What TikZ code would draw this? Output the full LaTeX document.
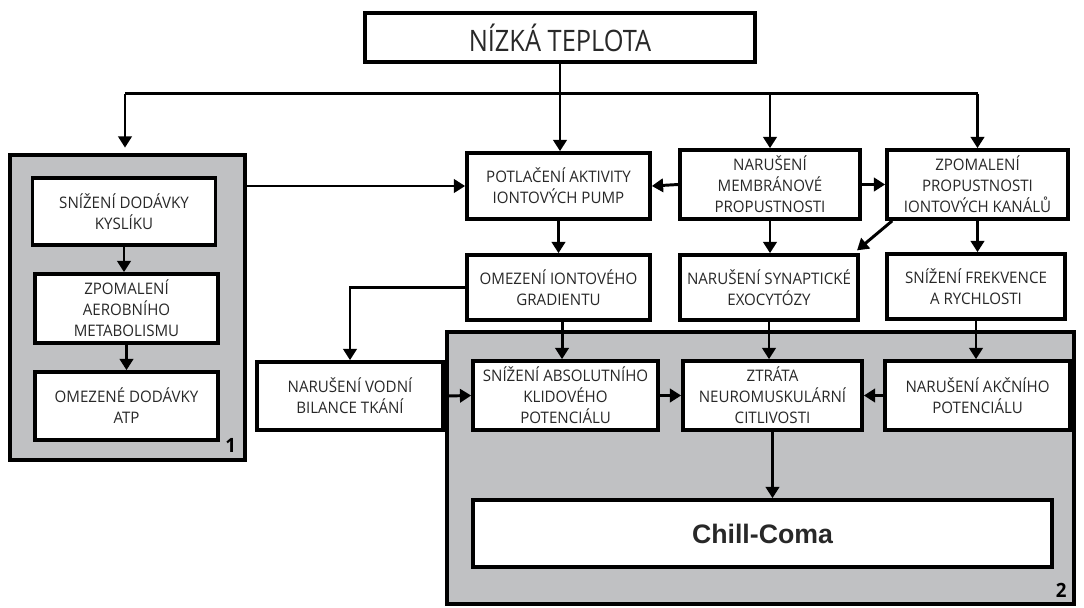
\documentclass[tikz,border=0pt]{standalone}
\usepackage{fontspec}
\setmainfont{Open Sans}[FakeStretch=0.95]
\newfontfamily\titlefont{Open Sans}[FakeStretch=0.86]
\newfontfamily\comafont{Liberation Sans}
\usetikzlibrary{arrows.meta}
\definecolor{panelgray}{RGB}{192,193,195}
\definecolor{inkgray}{RGB}{40,40,40}

\begin{document}
\begin{tikzpicture}[
                x=0.025cm,y=-0.025cm,
                box/.style={draw=black,fill=white,text=inkgray,line width=2.6pt,align=center,inner sep=2pt,
                  font=\fontsize{11.3}{15}\selectfont},
                grp/.style={draw,fill=panelgray,line width=2.4pt},
                arr/.style={line width=2.1pt,-{Triangle[length=8pt,width=9.5pt]}},
                bar/.style={line width=2.1pt}]

\useasboundingbox (0,0) rectangle (1084,607);

% top
\node[box,minimum width=9.75cm,minimum height=1.225cm,font=\titlefont\fontsize{21}{24}\selectfont] (TEMP) at (560,37.5) {NÍZKÁ TEPLOTA};

% panels
\node[grp,minimum width=5.875cm,minimum height=7.625cm] (GROUP1) at (127.5,307.5) {};
\node[grp,minimum width=15.675cm,minimum height=6.8cm] (GROUP2) at (760.5,468) {};
\node[anchor=south east,font=\fontsize{14}{14}\selectfont\bfseries] (NUM1) at ([xshift=-4pt,yshift=3pt]GROUP1.south east) {1};
\node[anchor=south east,font=\fontsize{14}{14}\selectfont\bfseries] (NUM2) at ([xshift=-3pt,yshift=2pt]GROUP2.south east) {2};

                    % 1
                    \node[box,minimum width=4.575cm,minimum height=1.675cm] (KYSL) at (124,211.5) {SNÍŽENÍ DODÁVKY\\KYSLÍKU};
                    \node[box,minimum width=4.575cm,minimum height=1.725cm] (AERO) at (126.5,308.5) {ZPOMALENÍ\\AEROBNÍHO\\METABOLISMU};
                    \node[box,minimum width=4.575cm,minimum height=1.7cm] (ATP) at (126.5,406) {OMEZENÉ DODÁVKY\\ATP};
                    \draw[arr] (KYSL.south) -- (KYSL.south |- AERO.north);
                    \draw[arr] (AERO.south) -- (AERO.south |- ATP.north);

                    % row 1
                    \node[box,minimum width=4.575cm,minimum height=1.65cm] (PUMP) at (558.5,186) {POTLAČENÍ AKTIVITY\\IONTOVÝCH PUMP};
                    \node[box,minimum width=4.5cm,minimum height=1.725cm] (MEMB) at (770,184.5) {NARUŠENÍ\\MEMBRÁNOVÉ\\PROPUSTNOSTI};
                    \node[box,minimum width=4.525cm,minimum height=1.725cm] (KANAL) at (977.5,184.5) {ZPOMALENÍ\\PROPUSTNOSTI\\IONTOVÝCH KANÁLŮ};

                    % row 2
                    \node[box,minimum width=4.575cm,minimum height=1.625cm] (GRAD) at (558.5,287.5) {OMEZENÍ IONTOVÉHO\\GRADIENTU};
                    \node[box,minimum width=4.45cm,minimum height=1.625cm] (SYNAP) at (769,287.5) {NARUŠENÍ SYNAPTICKÉ\\EXOCYTÓZY};
                    \node[box,minimum width=4.45cm,minimum height=1.625cm] (FREKV) at (976,286.5) {SNÍŽENÍ FREKVENCE\\A RYCHLOSTI};

                    % row 3
                    \node[box,minimum width=4.65cm,minimum height=1.7cm] (VODA) at (350,396) {NARUŠENÍ VODNÍ\\BILANCE TKÁNÍ};
                    \node[box,minimum width=4.625cm,minimum height=1.725cm] (KLID) at (565.5,395.5) {SNÍŽENÍ ABSOLUTNÍHO\\KLIDOVÉHO\\POTENCIÁLU};
                    \node[box,minimum width=4.475cm,minimum height=1.725cm] (ZTRATA) at (772.5,395.5) {ZTRÁTA\\NEUROMUSKULÁRNÍ\\CITLIVOSTI};
                    \node[box,minimum width=4.625cm,minimum height=1.725cm] (AKCE) at (977.5,395.5) {NARUŠENÍ AKČNÍHO\\POTENCIÁLU};

                    % chill coma
                    \node[box,minimum width=14.475cm,minimum height=1.675cm,font=\comafont\fontsize{19}{21}\selectfont\bfseries] (COMA) at (762.5,533.5) {Chill-Coma};

% connectors from the top
\draw[bar] (TEMP.south) -- ++(0,30) coordinate (BUS);
\draw[bar] (BUS -| 125,0) -- (BUS -| KANAL.north);
\draw[arr,shorten >=4pt] (BUS -| 125,0) -- (125,0 |- GROUP1.north);
\draw[arr] (BUS) -- (BUS |- PUMP.north);
\draw[arr] (BUS -| MEMB.north) -- (MEMB.north);
\draw[arr] (BUS -| KANAL.north) -- (KANAL.north);

% between boxes
\draw[arr] (GROUP1.east |- PUMP) -- (PUMP.west);
\draw[arr] (MEMB.west) -- (PUMP.east);
\draw[arr] (MEMB.east) -- (KANAL.west);
\draw[arr] (PUMP.south) -- (PUMP.south |- GRAD.north);
\draw[arr] (MEMB.south) -- (MEMB.south |- SYNAP.north);
\draw[arr] (KANAL.south) -- (KANAL.south |- FREKV.north);
\draw[arr] ([xshift=5pt]KANAL.south west) -- ([xshift=-2pt,yshift=2pt]SYNAP.north east);
\draw[arr] (GRAD.west) -| (VODA.north);
\draw[arr] ([xshift=2.5pt]GRAD.south) -- ([xshift=2.5pt]GRAD.south |- KLID.north);
\draw[arr] (SYNAP.south) -- (SYNAP.south |- ZTRATA.north);
\draw[arr] (FREKV.south) -- (FREKV.south |- AKCE.north);
\draw[arr] (VODA.east) -- (KLID.west);
\draw[arr] (KLID.east) -- (ZTRATA.west);
\draw[arr] (AKCE.west) -- (ZTRATA.east);
\draw[arr] (ZTRATA.south) -- (ZTRATA.south |- COMA.north);

\end{tikzpicture}
\end{document}
